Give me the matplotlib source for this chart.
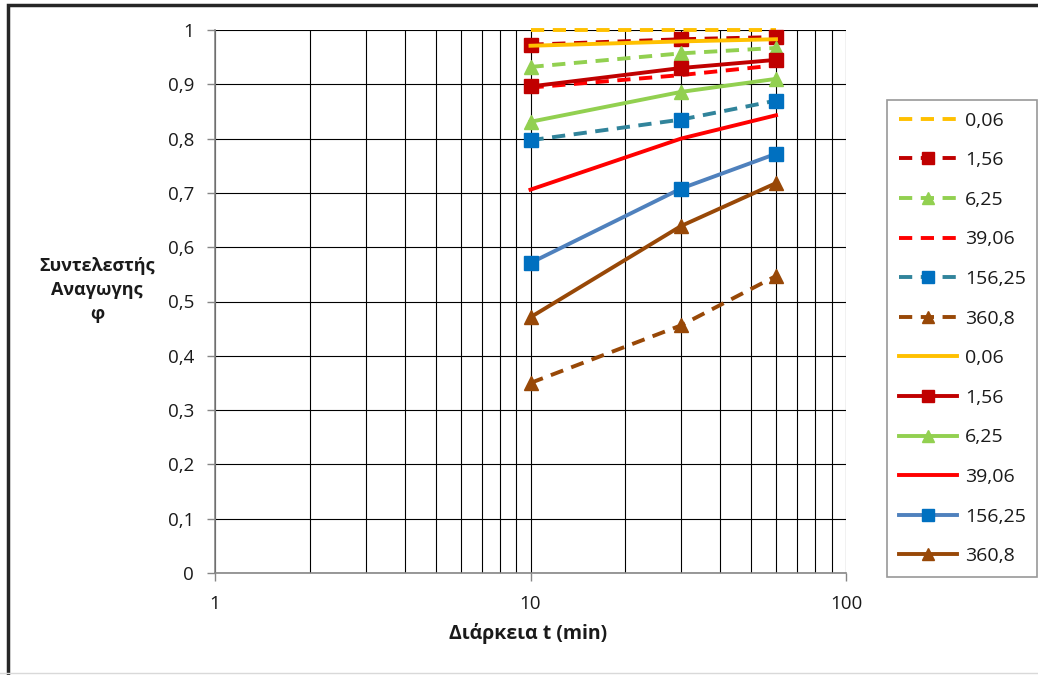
import matplotlib
matplotlib.use("Agg")
import matplotlib.pyplot as plt
from matplotlib.ticker import FixedLocator, FuncFormatter, NullFormatter, LogLocator
from matplotlib.patches import Rectangle
from matplotlib.lines import Line2D

plt.rcParams['font.family'] = ['Open Sans', 'DejaVu Sans']

# ---- data ----
t_min = [10, 30, 60]
labels = ["0,06", "1,56", "6,25", "39,06", "156,25", "360,8"]

dashed_006 = [1.000, 1.000, 1.000]
dashed_156 = [0.973, 0.983, 0.987]
dashed_625 = [0.932, 0.957, 0.967]
dashed_3906 = [0.894, 0.917, 0.935]
dashed_15625 = [0.797, 0.835, 0.870]
dashed_3608 = [0.350, 0.456, 0.547]

solid_006 = [0.971, 0.979, 0.983]
solid_156 = [0.896, 0.930, 0.945]
solid_625 = [0.831, 0.886, 0.910]
solid_3906 = [0.706, 0.800, 0.843]
solid_15625 = [0.571, 0.708, 0.772]
solid_3608 = [0.471, 0.639, 0.718]

y_ticks = [0, 0.1, 0.2, 0.3, 0.4, 0.5, 0.6, 0.7, 0.8, 0.9, 1.0]
x_ticks = [1, 10, 100]

# ---- styles ----
dash = (3.4, 2.2)
series = [
    (dashed_006, labels[0], dict(color="#FFC000", ls=(0, dash), marker=None)),
    (dashed_156, labels[1], dict(color="#C00000", ls=(0, dash), marker="s", mfc="#C00000", mec="#C00000")),
    (dashed_625, labels[2], dict(color="#92D050", ls=(0, dash), marker="^", mfc="#92D050", mec="#92D050")),
    (dashed_3906, labels[3], dict(color="#FF0000", ls=(0, dash), marker=None)),
    (dashed_15625, labels[4], dict(color="#31849B", ls=(0, dash), marker="s", mfc="#0070C0", mec="#0070C0")),
    (dashed_3608, labels[5], dict(color="#984807", ls=(0, dash), marker="^", mfc="#984807", mec="#984807")),
    (solid_006, labels[0], dict(color="#FFC000", ls="-", marker=None)),
    (solid_156, labels[1], dict(color="#C00000", ls="-", marker="s", mfc="#C00000", mec="#C00000")),
    (solid_625, labels[2], dict(color="#92D050", ls="-", marker="^", mfc="#92D050", mec="#92D050")),
    (solid_3906, labels[3], dict(color="#FF0000", ls="-", marker=None)),
    (solid_15625, labels[4], dict(color="#4F81BD", ls="-", marker="s", mfc="#0070C0", mec="#0070C0")),
    (solid_3608, labels[5], dict(color="#984807", ls="-", marker="^", mfc="#984807", mec="#984807")),
]

fig = plt.figure(figsize=(10.38, 6.75), dpi=100)
ax = fig.add_axes([215/1038, 1-573/675, (846-215)/1038, (573-30)/675])

for vals, lab, st in series:
    ax.plot(t_min, vals, label=lab, lw=2.8, markersize=10, clip_on=False, zorder=3, **st)

ax.set_xscale("log")
ax.set_xlim(1, 100)
ax.set_ylim(0, 1)
ax.xaxis.set_major_locator(FixedLocator(x_ticks))
ax.xaxis.set_minor_locator(LogLocator(base=10, subs=range(2, 10)))
ax.xaxis.set_major_formatter(FuncFormatter(lambda v, p: f"{v:g}"))
ax.xaxis.set_minor_formatter(NullFormatter())
ax.yaxis.set_major_locator(FixedLocator(y_ticks))
ax.yaxis.set_major_formatter(FuncFormatter(lambda v, p: f"{v:g}".replace(".", ",")))

ax.grid(True, which="both", axis="x", color="black", lw=0.8)
ax.grid(True, which="major", axis="y", color="black", lw=0.8)
ax.set_axisbelow(True)
for s in ["top", "right"]:
    ax.spines[s].set_visible(False)
for s in ["left", "bottom"]:
    ax.spines[s].set_color("#868686")
    ax.spines[s].set_linewidth(1.2)
ax.tick_params(axis="both", which="major", direction="out", length=6, width=1,
               color="#868686", labelsize=13.5, labelcolor="#1a1a1a")
ax.tick_params(axis="y", pad=9)
ax.tick_params(axis="x", pad=10)
ax.tick_params(axis="x", which="minor", length=0)

fig.text(97/1038, 1-290/675, "Συντελεστής\nΑναγωγης\nφ", ha="center", va="center",
         fontsize=13, fontweight="bold", color="#1a1a1a", linespacing=1.45)
fig.text(528/1038, 1-633/675, "Διάρκεια t (min)", ha="center", va="center",
         fontsize=14, fontweight="bold", color="#1a1a1a")

leg = ax.legend(loc="upper left", bbox_to_anchor=(887/1038, 1-100/675),
                bbox_transform=fig.transFigure, borderaxespad=0, fancybox=False,
                frameon=True, fontsize=14, handlelength=3.0, labelspacing=1.11,
                handletextpad=0.4, borderpad=0.6, markerscale=0.9)
leg.get_frame().set_edgecolor("#7f7f7f")
leg.get_frame().set_linewidth(1.2)
for txt in leg.get_texts():
    txt.set_color("#1a1a1a")

# outer chart border (cropped at right/bottom)
fig.patches.append(Rectangle((8/1038, -0.1), 1.2, 0.1 + (1-5/675), transform=fig.transFigure,
                             fill=False, edgecolor="#262626", lw=2.5))
fig.add_artist(Line2D([0, 1], [1-673/675, 1-673/675], transform=fig.transFigure,
                      color="#d9d9d9", lw=1))

fig.savefig("out.png", dpi=100)
